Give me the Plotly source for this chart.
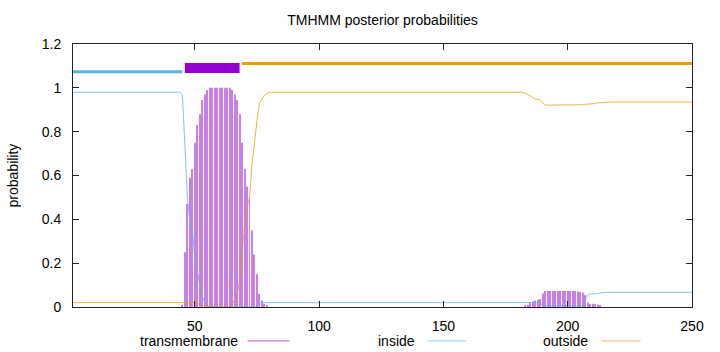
import plotly.graph_objects as go

# ---- data ----
positions = list(range(1, 251))

transmembrane = (
    [0.0] * 44
    + [0.01]
    + [0.25, 0.47, 0.59, 0.63, 0.75, 0.83, 0.88, 0.945, 0.97, 0.99]
    + [1.0] * 9
    + [0.99, 0.97, 0.945, 0.88, 0.75, 0.63, 0.55, 0.50, 0.35, 0.24, 0.15, 0.06, 0.03, 0.015, 0.005]
    + [0.0] * 103
    + [0.005, 0.008, 0.02, 0.025, 0.03, 0.033, 0.037, 0.062]
    + [0.073] * 13
    + [0.071, 0.068, 0.065, 0.055, 0.02, 0.015, 0.015, 0.013, 0.01, 0.005]
    + [0.0] * 37
)

inside = (
    [0.98] * 44
    + [0.97]
    + [0.73, 0.51, 0.39, 0.35, 0.23, 0.155, 0.10, 0.045, 0.025, 0.005]
    + [0.0] * 20
    + [0.01]
    + [0.02] * 112
    + [0.015, 0.008]
    + [0.006] * 16
    + [0.03, 0.055]
    + [0.06] * 4
    + [0.064]
    + [0.067] * 37
)

outside = (
    [0.02] * 50
    + [0.015, 0.015, 0.01, 0.005, 0.005]
    + [0.0] * 9
    + [0.01, 0.03, 0.055, 0.12, 0.25, 0.37, 0.45, 0.50, 0.65, 0.76, 0.85, 0.93, 0.95, 0.965, 0.975]
    + [0.98] * 103
    + [0.975, 0.967, 0.96, 0.955, 0.95, 0.947, 0.945, 0.93]
    + [0.921] * 15
    + [0.923, 0.925, 0.925, 0.925, 0.927, 0.928, 0.932, 0.933]
    + [0.935] * 37
)

# predicted topology segments: (label, start, end, level)
segment_labels = ["inside", "TMhelix", "outside"]
segment_starts = [1, 46, 69]
segment_ends = [45, 68, 250]
segment_levels = [1.073, 1.091, 1.111]

x_ticks = [50, 100, 150, 200, 250]
y_ticks = [0, 0.2, 0.4, 0.6, 0.8, 1.0, 1.2]
y_tick_labels = ["0", "0.2", "0.4", "0.6", "0.8", "1", "1.2"]

legend_names = ["transmembrane", "inside", "outside"]

# ---- styles ----
C_TM = "#9400D3"
C_IN = "#56B4E9"
C_OUT = "#E69F00"
seg_colors = [C_IN, C_TM, C_OUT]
seg_widths = [3, 10, 3]
FONT = "Liberation Sans, Arial, Helvetica, sans-serif"
AXIS_COL = "#222222"

fig = go.Figure()

fig.add_trace(go.Bar(
    x=positions, y=transmembrane, width=0.4,
    marker=dict(color=C_TM, line=dict(width=0)), opacity=0.5,
    name="transmembrane",
))
fig.add_trace(go.Scatter(
    x=positions, y=inside, mode="lines",
    line=dict(color=C_IN, width=1), opacity=0.75, name="inside",
))
fig.add_trace(go.Scatter(
    x=positions, y=outside, mode="lines",
    line=dict(color=C_OUT, width=1), opacity=0.75, name="outside",
))

for lab, s, e, lev, col, w in zip(segment_labels, segment_starts, segment_ends,
                                  segment_levels, seg_colors, seg_widths):
    fig.add_trace(go.Scatter(
        x=[s, e], y=[lev, lev], mode="lines",
        line=dict(color=col, width=w), name=lab,
    ))

# manual legend (text left of sample line, like gnuplot)
legend_text_right = [0.269, 0.555, 0.835]
legend_line_x0 = [0.282, 0.572, 0.854]
legend_line_x1 = [0.350, 0.635, 0.917]
legend_colors = [C_TM, C_IN, C_OUT]
leg_y = -0.129
for name, xr, x0, x1, col in zip(legend_names, legend_text_right, legend_line_x0,
                                  legend_line_x1, legend_colors):
    fig.add_annotation(
        x=xr, y=leg_y, xref="paper", yref="paper", text=name, showarrow=False,
        xanchor="right", yanchor="middle",
        font=dict(family=FONT, size=14, color="black"),
    )
    fig.add_shape(
        type="line", xref="paper", yref="paper", x0=x0, x1=x1, y0=leg_y, y1=leg_y,
        line=dict(color=col, width=1), opacity=0.65,
    )

fig.add_annotation(
    x=-0.097, y=0.5, xref="paper", yref="paper", text="probability",
    textangle=-90, showarrow=False, xanchor="center", yanchor="middle",
    font=dict(family=FONT, size=14, color="black"),
)

fig.update_layout(
    width=720, height=352,
    margin=dict(l=73, r=28, t=44, b=45),
    paper_bgcolor="white", plot_bgcolor="white",
    showlegend=False, barmode="overlay",
    title=dict(text="TMHMM posterior probabilities", x=0.5, xref="paper",
               y=1 - 20 / 352, yanchor="middle",
               font=dict(family=FONT, size=14, color="black")),
    font=dict(family=FONT, size=14, color="black"),
)
fig.update_xaxes(
    range=[1, 250], tickvals=x_ticks, ticks="inside", ticklen=6,
    tickcolor=AXIS_COL, showline=True, linecolor=AXIS_COL, linewidth=1,
    mirror="ticks", showgrid=False, zeroline=False,
    tickfont=dict(family=FONT, size=14, color="black"), ticklabelstandoff=6,
)
fig.update_yaxes(
    range=[0, 1.2], tickvals=y_ticks, ticktext=y_tick_labels, ticks="inside",
    ticklen=6, tickcolor=AXIS_COL, showline=True, linecolor=AXIS_COL, linewidth=1,
    mirror="ticks", showgrid=False, zeroline=False,
    tickfont=dict(family=FONT, size=14, color="black"), ticklabelstandoff=8,
)

fig.write_html("out.html")
